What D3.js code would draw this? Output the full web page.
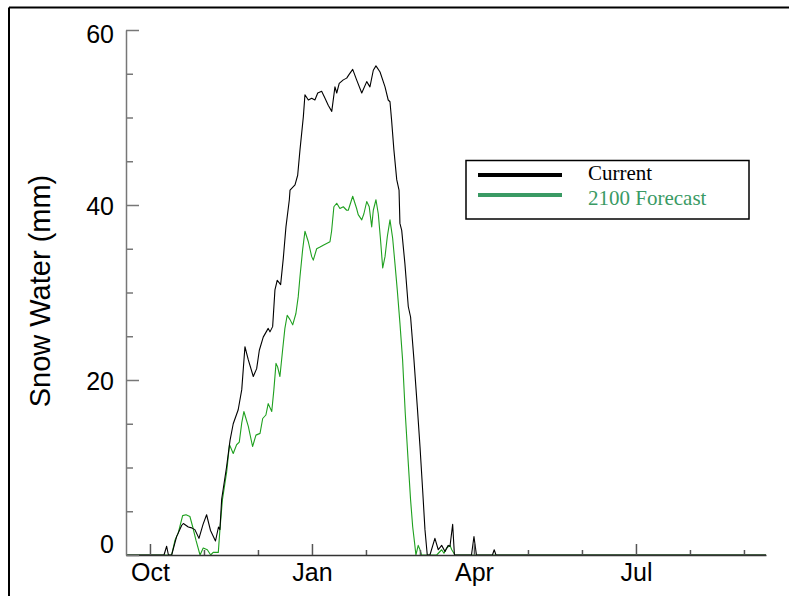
<!DOCTYPE html>
<html>
<head>
<meta charset="utf-8">
<script src="https://cdn.jsdelivr.net/npm/d3@7"></script>
<style>
  html, body { margin: 0; padding: 0; background: #fff; }
  svg { display: block; }
</style>
</head>
<body>
<svg id="chart" width="789" height="596"></svg>
<script>
// ---------- data (day of water year, 0 = Oct 1) ----------
const monthNames = ["Oct","Nov","Dec","Jan","Feb","Mar","Apr","May","Jun","Jul","Aug","Sep"];
const labeledMonths = ["Oct","Jan","Apr","Jul"];
const yMajorTicks = [0, 20, 40, 60];
const yMinorTicks = [5, 10, 15, 25, 30, 35, 45, 50, 55];
const seriesNames = ["Current", "2100 Forecast"];

const currentDays = [-13.5, 7.9, 9.4, 10.4, 12.2, 15.0, 17.9, 18.8, 21.6, 23.5, 25.3, 27.6, 29.9, 31.9, 34.1, 36.9, 38.6, 39.4,
  40.4, 43.1, 45.1, 46.9, 49.7, 51.7, 53.5, 55.4, 58.2, 60.1, 61.6, 63.8, 66.6, 67.6, 69.1, 70.4, 71.7, 73.6, 75.1, 76.6, 78.5,
  78.9, 81.7, 83.2, 84.5, 86.4, 87.3, 89.2, 91.1, 92.9, 94.5, 96.7, 98.6, 100.4, 102.4, 104.2, 105.2, 106.6, 108.9, 110.8,
  112.1, 114.2, 116.4, 119.3, 122.1, 123.9, 125.8, 127.3, 129.6, 132.4, 134.2, 135.2, 136.1, 137.4, 139.0, 140.3, 140.8,
  141.8, 143.6, 145.5, 146.8, 148.7, 150.6, 152.1, 153.6, 154.9, 156.2, 157.7, 160.5, 162.4, 164.3, 166.2, 168.0, 169.0,
  170.5, 171.5, 181.1, 182.5, 183.9, 192.9, 193.9, 194.9, 347];
const currentSWE = [0, 0, 1.0, 0, 0, 2.1, 3.4, 3.6, 3.2, 3.1, 2.9, 1.9, 3.5, 4.6, 2.8, 1.6, 3.2, 2.9,
  6.4, 10.0, 13.1, 15.0, 16.6, 18.9, 23.8, 22.3, 20.4, 21.3, 23.4, 24.9, 25.9, 25.5, 26.1, 30.3, 31.4, 30.9, 33.9, 37.5, 40.6,
  41.7, 42.3, 43.4, 46.3, 50.1, 52.6, 52.0, 52.2, 52.0, 52.8, 53.0, 52.2, 51.4, 50.7, 53.5, 52.8, 53.9, 54.3, 54.5,
  54.9, 55.5, 54.3, 52.8, 54.1, 53.5, 55.4, 55.9, 55.2, 53.5, 52.0, 51.8, 49.7, 46.3, 42.9, 41.7, 37.9,
  37.1, 33.3, 28.4, 27.2, 22.3, 16.9, 12.4, 7.4, 2.9, 0, 0, 1.9, 0.6, 1.1, 0.4, 1.1, 1.0,
  3.5, 0, 0, 2.1, 0, 0, 0.6, 0, 0];

const forecastDays = [-13.5, 12.2, 14.1, 15.9, 18.4, 20.3, 22.5, 24.1, 25.9, 28.2, 30.0, 32.3, 34.2, 35.6, 38.5, 39.4, 40.8,
  43.2, 44.8, 46.9, 48.8, 50.3, 51.7, 52.9, 55.4, 57.8, 59.7, 62.0, 63.5, 65.3, 66.6, 68.6, 69.8, 71.0, 71.9, 73.2, 74.7,
  76.0, 77.3, 78.9, 80.4, 82.2, 83.5, 84.5, 86.0, 87.3, 89.2, 91.1, 92.0, 93.9, 95.8, 97.6, 99.5, 101.4, 102.3, 103.6,
  105.2, 107.0, 108.9, 110.8, 111.7, 114.2, 116.4, 117.3, 119.3, 120.5, 122.1, 123.5, 124.9, 125.8, 127.3, 128.6, 129.8,
  131.1, 132.4, 133.7, 135.2, 136.7, 138.0, 139.3, 140.8, 142.3, 143.8, 145.5, 146.8, 148.0, 149.1, 149.8, 151.1, 152.1,
  153.0, 161.5, 164.3, 165.6, 167.1, 169.0, 170.0, 171.8, 347];
const forecastSWE = [0, 0, 1.7, 2.5, 4.5, 4.6, 4.4, 3.2, 1.7, 0, 0.8, 0.6, 0, 0.3, 0.3, 2.9, 6.3,
  9.5, 12.6, 11.6, 12.6, 12.9, 15.1, 16.4, 14.7, 12.4, 13.7, 13.9, 15.6, 16.0, 17.3, 16.4, 18.9, 21.9, 21.5, 20.4, 23.4,
  25.9, 27.4, 26.9, 26.3, 27.6, 29.5, 31.8, 34.9, 37.0, 35.8, 34.1, 33.7, 35.0, 35.2, 35.4, 35.6, 35.8, 37.0, 39.8,
  40.2, 39.6, 39.8, 39.4, 39.4, 41.0, 39.6, 38.9, 38.3, 39.0, 40.4, 39.8, 37.5, 39.4, 40.6, 39.0, 36.2,
  32.8, 34.1, 36.4, 38.3, 36.2, 33.3, 30.3, 26.5, 22.3, 16.2, 10.5, 6.3, 3.2, 1.3, 0, 1.1, 0.6,
  0, 0, 0.6, 0.2, 0.8, 1.1, 0.6, 0, 0];

// ---------- layout ----------
const svg = d3.select("#chart");
const x = d3.scaleLinear().domain([-13.5, 347]).range([126, 766]);
const y = d3.scaleLinear().domain([0, 60]).range([555, 30]);
const daysPerMonth = 365 / 12;
const monthTicks = monthNames.map((m, i) => ({ name: m, day: i * daysPerMonth }));
const majorDays = monthTicks.filter(d => labeledMonths.includes(d.name)).map(d => d.day);
const minorDays = monthTicks.filter(d => !labeledMonths.includes(d.name)).map(d => d.day);
const nameByDay = new Map(monthTicks.map(d => [d.day, d.name]));

// outer frame (top and left edges visible)
svg.append("line").attr("x1", 9).attr("x2", 789).attr("y1", 7.5).attr("y2", 7.5)
  .attr("stroke", "#000").attr("stroke-width", 2);
svg.append("line").attr("x1", 9).attr("x2", 9).attr("y1", 7.5).attr("y2", 596)
  .attr("stroke", "#000").attr("stroke-width", 2);

const tickFont = "'Liberation Sans', Arial, Helvetica, sans-serif";

// series lines (drawn first so the axes stay on top)
const line = d3.line().x(d => x(d[0])).y(d => y(d[1]));
const currentData = currentDays.map((d, i) => [d, currentSWE[i]]);
const forecastData = forecastDays.map((d, i) => [d, forecastSWE[i]]);

svg.append("path").datum(forecastData).attr("d", line)
  .attr("fill", "none").attr("stroke", "#1fa01f").attr("stroke-width", 1.1).attr("stroke-linejoin", "round");
svg.append("path").datum(currentData).attr("d", line)
  .attr("fill", "none").attr("stroke", "#000").attr("stroke-width", 1.1).attr("stroke-linejoin", "round");

// x axis: minor ticks
const gxMinor = svg.append("g").attr("transform", "translate(0,555)")
  .call(d3.axisBottom(x).tickValues(minorDays).tickSize(-5).tickSizeOuter(0).tickFormat(""));
gxMinor.select(".domain").remove();
gxMinor.selectAll(".tick line").attr("stroke", "#555").attr("stroke-width", 1.5);
// x axis: major ticks + labels
const gx = svg.append("g").attr("transform", "translate(0,555)")
  .call(d3.axisBottom(x).tickValues(majorDays).tickSize(-11).tickSizeOuter(0).tickPadding(8)
    .tickFormat(d => nameByDay.get(d)));
gx.select(".domain").attr("stroke", "#333").attr("stroke-width", 1.5);
gx.selectAll(".tick line").attr("stroke", "#555").attr("stroke-width", 1.5);
gx.selectAll(".tick text").attr("font-family", tickFont).attr("font-size", 25).attr("fill", "#000");

// y axis: minor ticks
const gyMinor = svg.append("g").attr("transform", "translate(126,0)")
  .call(d3.axisLeft(y).tickValues(yMinorTicks).tickSize(-7).tickSizeOuter(0).tickFormat(""));
gyMinor.select(".domain").remove();
gyMinor.selectAll(".tick line").attr("stroke", "#777").attr("stroke-width", 1.5);
// y axis: major ticks + labels
const gy = svg.append("g").attr("transform", "translate(126,0)")
  .call(d3.axisLeft(y).tickValues(yMajorTicks).tickSize(-13).tickSizeOuter(0).tickPadding(12));
gy.select(".domain").attr("stroke", "#777").attr("stroke-width", 1.5);
gy.selectAll(".tick line").attr("stroke", "#777").attr("stroke-width", 1.5);
gy.selectAll(".tick text").attr("font-family", tickFont).attr("font-size", 25).attr("fill", "#000")
  .attr("dy", d => d === 0 ? "-0.12em" : (d === 60 ? "0.5em" : "0.36em"));

// y axis title
svg.append("text")
  .attr("transform", "translate(50,291) rotate(-90)")
  .attr("text-anchor", "middle")
  .attr("font-family", tickFont).attr("font-size", 29).attr("fill", "#000")
  .text("Snow Water (mm)");

// legend
const legend = svg.append("g");
legend.append("rect").attr("x", 466).attr("y", 160.5).attr("width", 283).attr("height", 58.5)
  .attr("fill", "#fff").attr("stroke", "#000").attr("stroke-width", 1.5);
const legendColors = ["#000", "#3a9a64"];
seriesNames.forEach((name, i) => {
  const ly = 175 + i * 20;
  legend.append("line").attr("x1", 478).attr("x2", 562).attr("y1", ly).attr("y2", ly)
    .attr("stroke", legendColors[i]).attr("stroke-width", 4);
  legend.append("text").attr("x", 588).attr("y", 180 + i * 25)
    .attr("font-family", "'Liberation Serif', 'Times New Roman', serif").attr("font-size", 21)
    .attr("fill", legendColors[i]).text(name);
});
</script>
</body>
</html>
